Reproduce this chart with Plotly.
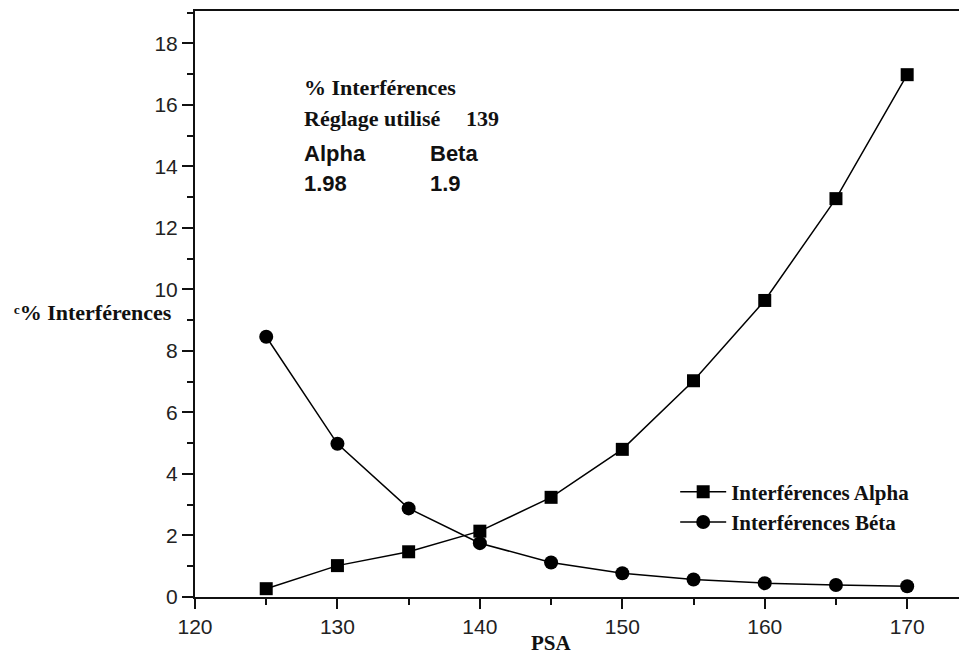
import plotly.graph_objects as go

psa = [125, 130, 135, 140, 145, 150, 155, 160, 165, 170]
alpha = [0.27, 1.02, 1.47, 2.14, 3.24, 4.80, 7.03, 9.64, 12.95, 16.98]
beta = [8.46, 4.98, 2.88, 1.75, 1.12, 0.77, 0.57, 0.45, 0.39, 0.35]

x_ticks = [120, 130, 140, 150, 160, 170]
y_ticks = [0, 2, 4, 6, 8, 10, 12, 14, 16, 18]

serif = "Liberation Serif, Times New Roman, serif"
sans = "Liberation Sans, Arial, sans-serif"

fig = go.Figure()
fig.add_trace(go.Scatter(
    x=psa, y=alpha, mode="lines+markers", name="<b>Interférences Alpha</b>",
    line=dict(color="black", width=1.5),
    marker=dict(symbol="square", size=13, color="black"),
))
fig.add_trace(go.Scatter(
    x=psa, y=beta, mode="lines+markers", name="<b>Interférences Béta</b>",
    line=dict(color="black", width=1.5),
    marker=dict(symbol="circle", size=14, color="black"),
))

# page has an 8px body margin; plot area target (page px): x 195-967, y 9-597
fig.update_layout(
    width=967, height=657,
    margin=dict(l=187, r=8, t=1, b=68),
    paper_bgcolor="white", plot_bgcolor="white",
    showlegend=True,
    legend=dict(
        x=0.622, y=0.214, xanchor="left", yanchor="top",
        font=dict(family=serif, size=21, color="#111"),
        bgcolor="rgba(0,0,0,0)", itemwidth=46, tracegroupgap=0,
    ),
    xaxis=dict(
        range=[120, 174.2], tickvals=x_ticks,
        showline=True, linecolor="#111", linewidth=2, mirror=True,
        ticks="outside", ticklen=10, tickwidth=1.5, tickcolor="#111",
        minor=dict(ticks="outside", ticklen=6, dtick=5, tick0=120, tickcolor="#111", tickwidth=1.5),
        showgrid=False, zeroline=False,
        tickfont=dict(family=sans, size=21, color="#222"),
    ),
    yaxis=dict(
        range=[0, 19.05], tickvals=y_ticks,
        showline=True, linecolor="#111", linewidth=2, mirror=False,
        ticks="outside", ticklen=11, tickwidth=1.5, tickcolor="#111",
        minor=dict(ticks="outside", ticklen=6, dtick=1, tick0=0, tickcolor="#111", tickwidth=1.5),
        showgrid=False, zeroline=False,
        tickfont=dict(family=sans, size=21, color="#222"),
    ),
)


def add_px(text, px, py, family, size, anchor="left"):
    fig.add_annotation(
        text=text, xref="paper", yref="paper",
        x=(px - 195) / (967 - 195), y=(597 - py) / (597 - 9),
        xanchor=anchor, yanchor="middle", showarrow=False,
        font=dict(family=family, size=size, color="#111"),
    )


add_px("<b>ᶜ% Interférences</b>", 174, 312, serif, 22, anchor="right")
add_px("<b>PSA</b>", 551, 643, serif, 21, anchor="center")
add_px("<b>% Interférences</b>", 302, 86, serif, 22)
add_px("<b>Réglage utilisé</b>", 302, 117, serif, 22)
add_px("<b>139</b>", 464, 117, serif, 22)
add_px("<b>Alpha</b>", 302, 152, sans, 22)
add_px("<b>Beta</b>", 428, 152, sans, 22)
add_px("<b>1.98</b>", 302, 182, sans, 22)
add_px("<b>1.9</b>", 428, 182, sans, 22)

fig.write_html("out.html")
